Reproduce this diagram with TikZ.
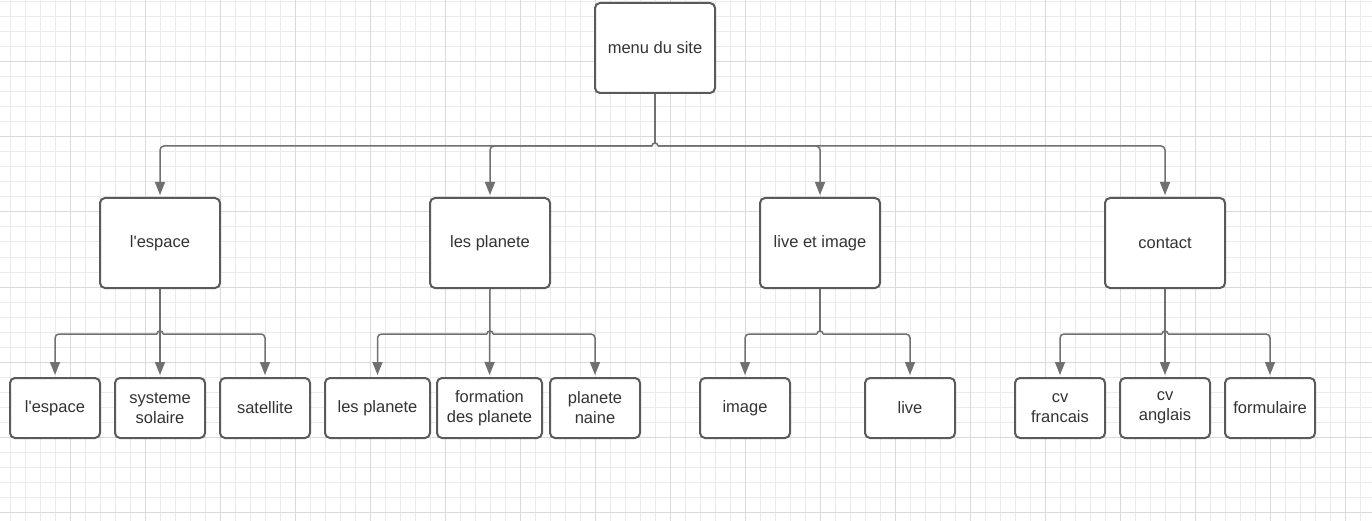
\documentclass[tikz,border=0pt]{standalone}
\usepackage{fontspec}
\setmainfont{Liberation Sans}
\definecolor{gridminor}{HTML}{EBEBEB}
\definecolor{gridmajor}{HTML}{DADADA}
\definecolor{boxline}{HTML}{5A5A5A}
\definecolor{linkline}{HTML}{707070}
\definecolor{labeltext}{HTML}{333333}
\usetikzlibrary{arrows.meta}

\tikzset{
    menubox/.style = {rectangle, draw = boxline, line width = 2pt, rounded corners = 5pt, fill = white, text = labeltext, align = center, inner sep = 0pt, font = \fontsize{16.5}{20}\selectfont},
    topbox/.style = {menubox, minimum width = 120pt, minimum height = 90pt},
    leafbox/.style = {menubox, minimum width = 90pt, minimum height = 60pt},
    link/.style = {draw = linkline, line width = 1.5pt, rounded corners = 4pt},
    arrowlink/.style = {link, shorten > = 2pt, -{Triangle[length = 13pt, width = 10pt]}}
}

\begin{document}
\begin{tikzpicture}[x = 1pt, y = -1pt]
        \fill [white] (0,0) rectangle (1372,521);
        \useasboundingbox (0,0) rectangle (1372,521);

        \foreach \x in {10, 25, ..., 1372}
        {
            \draw [gridminor, line width = 1pt] (\x, 0) -- (\x, 521);
        }
        \foreach \y in {2, 17, ..., 521}
        {
            \draw [gridminor, line width = 1pt] (0, \y) -- (1372, \y);
        }
        \foreach \x in {70, 145, ..., 1372}
        {
            \draw [gridmajor, line width = 1pt] (\x, 0) -- (\x, 521);
        }
        \foreach \y in {62, 137, ..., 521}
        {
            \draw [gridmajor, line width = 1pt] (0, \y) -- (1372, \y);
        }

        \node (menu) [topbox] at (655, 48) {menu du site};

        \node (espace) [topbox] at (160, 243) {l\textquotesingle espace};
        \node (planete) [topbox] at (490, 243) {les planete};
        \node (live) [topbox] at (820, 243) {live et image};
        \node (contact) [topbox] at (1165, 243) {contact};

        \node (espaceleaf) [leafbox] at (55, 408) {l\textquotesingle espace};
        \node (solaire) [leafbox] at (160, 408) {systeme\\solaire};
        \node (satellite) [leafbox] at (265, 408) {satellite};
        \node (planeteleaf) [leafbox, minimum width = 105pt] at (377.5, 408) {les planete};
        \node (formation) [leafbox, minimum width = 105pt] at (489.5, 408) {formation\\des planete};
        \node (naine) [leafbox] at (595, 408) {planete\\naine};
        \node (image) [leafbox] at (745, 408) {image};
        \node (liveleaf) [leafbox] at (910, 408) {live};
        \node (francais) [leafbox] at (1060, 408) {cv\\francais};
        \node (anglais) [leafbox] at (1165, 408) {cv\\anglais};
        \node (formulaire) [leafbox] at (1270, 408) {formulaire};

        \path (menu.south) ++(0, 52) coordinate (hubmenu);
        \foreach \p in {espace, planete, live, contact}
        {
            \path (\p.south) ++(0, 45) coordinate (hub\p);
        }

        \draw [link] (menu.south) -- ([yshift = 3pt] hubmenu);
        \draw [link] ([xshift = -3pt] hubmenu) arc [start angle = 180, end angle = 0, radius = 3pt];
        \foreach \c in {espace, planete}
        {
            \draw [arrowlink] ([xshift = -3pt] hubmenu) -| (\c.north);
        }
        \foreach \c in {live, contact}
        {
            \draw [arrowlink] ([xshift = 3pt] hubmenu) -| (\c.north);
        }

        \draw [arrowlink] (espace.south) -- (solaire.north);
        \draw [arrowlink] (planete.south) -- (formation.north);
        \draw [link] (live.south) -- ([yshift = 3pt] hublive);
        \draw [arrowlink] (contact.south) -- (anglais.north);

        \foreach \p/\l/\r in {espace/espaceleaf/satellite, planete/planeteleaf/naine, live/image/liveleaf, contact/francais/formulaire}
        {
            \draw [link] ([xshift = -3pt] hub\p) arc [start angle = 180, end angle = 0, radius = 3pt];
            \draw [arrowlink] ([xshift = -3pt] hub\p) -| (\l.north);
            \draw [arrowlink] ([xshift = 3pt] hub\p) -| (\r.north);
        }
\end{tikzpicture}
\end{document}
